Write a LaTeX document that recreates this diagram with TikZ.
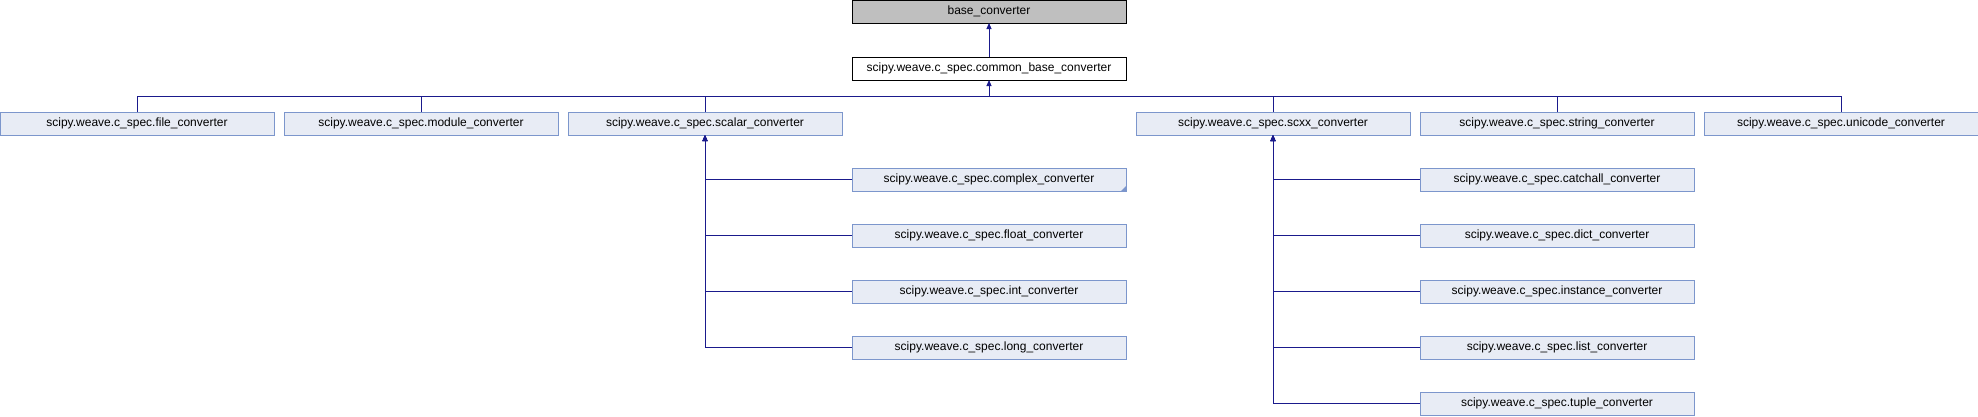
\documentclass[tikz,border=0pt]{standalone}
\usepackage{fontspec}
\setmainfont{Liberation Sans}
\usetikzlibrary{arrows.meta}
\definecolor{boxfill}{HTML}{E8ECF5}
\definecolor{boxdraw}{HTML}{7C96CC}
\definecolor{edgecol}{HTML}{1A1A8C}
\definecolor{basefill}{HTML}{BFBFBF}
\tikzset{
  cls/.style={draw=boxdraw, fill=boxfill, line width=0.9pt, minimum width=274pt, minimum height=23pt,
    inner sep=0pt, outer sep=0pt, anchor=north west, font=\fontsize{12}{14}\selectfont},
  topcls/.style={cls, draw=black},
  edge/.style={draw=edgecol, line width=0.9pt},
  arr/.style={edge, -{Triangle[length=6pt,width=5pt]}}
}
\begin{document}
\begin{tikzpicture}[x=1pt, y=-1pt]
\useasboundingbox (0,0) rectangle (1978,416);
\node[topcls, fill=basefill] (base) at (852,0) {base\_converter};
\node[topcls, fill=white] (common) at (852,57) {scipy.weave.c\_spec.common\_base\_converter};
\node[cls] (file) at (0,112) {scipy.weave.c\_spec.file\_converter};
\node[cls] (module) at (284,112) {scipy.weave.c\_spec.module\_converter};
\node[cls] (scalar) at (568,112) {scipy.weave.c\_spec.scalar\_converter};
\node[cls] (scxx) at (1136,112) {scipy.weave.c\_spec.scxx\_converter};
\node[cls] (string) at (1420,112) {scipy.weave.c\_spec.string\_converter};
\node[cls] (unicode) at (1704,112) {scipy.weave.c\_spec.unicode\_converter};
\node[cls] (complex) at (852,168) {scipy.weave.c\_spec.complex\_converter};
\node[cls] (float) at (852,224) {scipy.weave.c\_spec.float\_converter};
\node[cls] (int) at (852,280) {scipy.weave.c\_spec.int\_converter};
\node[cls] (long) at (852,336) {scipy.weave.c\_spec.long\_converter};
\node[cls] (catchall) at (1420,168) {scipy.weave.c\_spec.catchall\_converter};
\node[cls] (dict) at (1420,224) {scipy.weave.c\_spec.dict\_converter};
\node[cls] (instance) at (1420,280) {scipy.weave.c\_spec.instance\_converter};
\node[cls] (list) at (1420,336) {scipy.weave.c\_spec.list\_converter};
\node[cls] (tuple) at (1420,392) {scipy.weave.c\_spec.tuple\_converter};
\fill[boxdraw] (complex.south east) -- ++(-5pt,0pt) -- ++(5pt,5pt) -- cycle;
\coordinate (bus) at (common.south |- 0,96);
\draw[arr] (common.north) -- (base.south);
\draw[arr] (bus) -- (common.south);
\foreach \n in {file,module,scalar,scxx,string,unicode}
  \draw[edge] (\n.north) |- (bus);
\foreach \n in {complex,float,int,long}
  \draw[arr] (\n.west) -| (scalar.south);
\foreach \n in {catchall,dict,instance,list,tuple}
  \draw[arr] (\n.west) -| (scxx.south);
\end{tikzpicture}
\end{document}
